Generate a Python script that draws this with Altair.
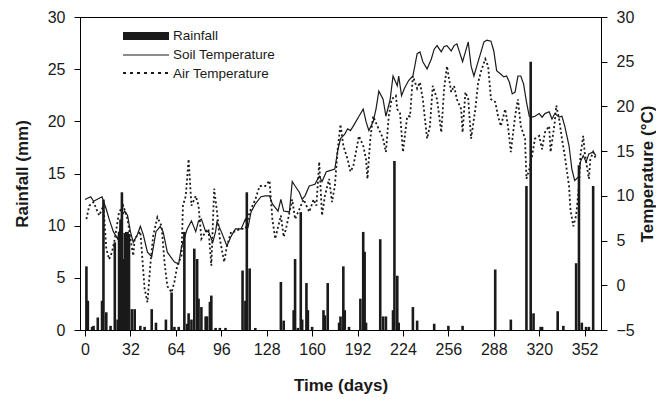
import altair as alt
import pandas as pd

# ---- data ----
soil_days = [0,4,6,12,15,17,20,23,25,26,28,30,32,34,37,39,41,44,47,50,53,55,58,63,66,68,72,75,78,80,82,85,87,90,92,93,96,100,103,106,110,113,115,117,120,124,127,130,132,136,138,140,144,146,148,151,153,155,158,162,165,167,170,172,176,178,180,183,185,187,189,193,196,198,200,203,205,207,210,212,215,217,220,221,223,225,228,231,234,236,238,241,244,246,248,251,253,255,258,260,262,266,268,270,272,274,276,279,281,283,286,288,290,293,295,297,299,301,303,305,307,309,311,313,315,317,320,322,324,327,329,331,334,336,338,341,343,345,348,349,351,353,355,358,360]
soil_temp = [9.6,9.9,9.4,9.9,8.5,7.4,6.0,5.2,6.6,7.8,8.3,7.8,6.0,4.8,5.7,6.6,5.7,3.7,3.2,6.0,6.6,6.0,3.7,2.6,2.4,4.3,6.3,7.2,6.0,7.2,7.4,6.0,6.0,4.8,6.0,7.1,6.0,4.4,5.5,6.3,6.3,7.4,6.6,8.2,9.1,9.9,10.0,10.0,9.1,8.3,9.6,8.3,8.2,11.6,11.1,10.4,9.6,10.0,11.1,11.3,12.2,11.6,12.7,12.8,13.0,15.0,16.4,16.9,17.5,17.3,17.8,18.9,19.7,18.3,17.3,18.3,19.7,21.7,20.8,18.9,20.8,23.4,22.3,23.4,21.2,22.0,22.9,23.4,25.9,26.1,25.0,24.2,25.3,26.4,26.8,26.1,26.7,26.8,26.2,26.8,27.0,25.0,26.1,27.2,24.5,23.4,24.5,26.1,27.2,27.4,27.3,26.2,24.0,23.6,23.3,23.4,22.7,21.4,21.6,23.4,23.4,22.5,20.5,18.9,18.8,18.9,19.2,18.8,19.2,19.4,18.6,19.2,18.8,18.9,17.8,15.6,13.0,11.7,12.2,13.8,14.5,13.8,14.7,14.9,14.5]

air_days = [1,3,6,10,13,15,17,19,21,24,27,30,32,34,35,39,42,44,46,48,51,54,56,58,61,63,65,68,69,71,73,75,78,80,82,85,87,89,91,93,95,98,100,103,106,109,113,116,120,123,127,130,132,134,138,140,142,146,148,151,154,158,161,163,165,167,169,172,174,176,178,180,182,185,187,189,193,196,198,199,201,203,206,208,210,212,214,216,219,220,222,224,227,229,231,234,236,238,241,243,245,248,251,253,255,258,260,262,265,266,268,270,272,275,277,279,282,284,286,289,291,293,296,298,300,303,305,307,310,311,313,315,317,320,322,324,327,328,331,332,334,336,338,341,342,344,346,348,349,351,352,355,356,358,360]
air_temp = [7.4,8.9,9.3,7.8,8.9,4.1,2.9,3.7,5.2,8.2,8.9,7.4,5.2,3.3,5.2,6.0,-0.4,-1.9,2.2,5.5,7.6,6.6,2.6,-0.1,-0.8,0.4,2.2,3.3,8.9,10.0,14.1,8.9,10.0,8.9,5.2,6.0,6.3,2.2,10.8,8.2,5.2,2.6,4.4,6.0,6.0,6.3,6.3,8.2,9.6,11.1,11.1,11.7,7.4,5.2,7.8,5.4,6.6,9.6,7.4,8.5,9.6,8.2,9.6,8.9,13.8,7.8,10.0,11.9,9.3,11.1,15.2,18.0,15.6,14.1,12.7,13.3,16.7,15.6,14.1,11.9,16.4,18.9,17.8,17.1,16.4,14.9,18.9,20.8,21.2,19.7,19.2,14.9,18.9,18.9,23.4,22.0,22.7,20.8,16.4,17.8,22.3,20.8,17.1,22.0,24.5,21.6,22.3,20.8,19.7,17.1,21.6,20.8,16.4,19.7,22.7,23.9,25.3,24.5,20.8,20.5,18.9,17.8,19.7,17.8,14.9,18.9,20.8,17.8,16.4,11.9,13.0,14.5,16.4,16.7,15.2,17.1,17.8,14.9,18.3,20.1,18.6,16.4,14.5,11.1,8.5,6.6,7.8,11.1,14.5,16.7,14.9,11.9,14.1,14.9,14.1]

rain_days = [1,2,5,6,9,12,13,15,18,21,23,24,25,26,27,28,29,30,31,33,35,39,42,47,50,57,61,63,66,70,72,73,75,77,79,80,82,85,86,88,89,92,95,99,111,113,114,116,120,138,140,147,148,150,152,153,156,157,160,168,169,171,179,180,182,183,186,194,196,197,198,208,210,212,217,218,220,221,231,234,246,256,266,289,300,311,314,316,321,322,333,337,346,348,350,353,355,358]
rain_mm = [6.1,2.8,0.3,0.4,1.2,2.8,12.5,1.7,0.4,8.4,1.0,9.4,10.6,13.2,6.8,9.3,9.4,9.4,9.2,2.0,2.0,0.4,0.3,2.0,0.7,1.0,3.6,0.3,0.3,9.4,0.6,1.6,1.0,7.8,6.8,3.0,2.2,1.3,1.3,2.7,3.3,0.2,0.2,0.2,5.7,2.8,13.2,5.9,0.2,4.6,0.9,1.9,6.8,0.2,11.3,1.0,4.5,1.9,0.3,1.9,1.4,4.5,0.7,1.3,6.1,1.9,0.3,3.0,9.4,7.5,0.7,8.7,1.3,1.3,1.9,16.2,5.2,0.7,2.2,0.9,0.6,0.4,0.4,5.8,1.0,13.8,25.7,1.6,0.3,0.3,1.8,0.4,6.4,15.8,0.7,0.3,0.3,13.8]

x_ticks = list(range(0, 361, 4))
legend_labels = ["Rainfall", "Soil Temperature", "Air Temperature"]

soil_df = pd.DataFrame({"day": soil_days, "temp": soil_temp})
air_df = pd.DataFrame({"day": air_days, "temp": air_temp})
rain_df = pd.DataFrame({"day": rain_days, "rain": rain_mm})

FONT = "Liberation Sans"
INK = "#1a1a1a"

xenc = alt.X("day:Q", scale=alt.Scale(domain=[0, 360], nice=False, zero=False),
             axis=alt.Axis(values=x_ticks, title="Time (days)",
                           labelExpr="datum.value % 32 === 0 && datum.value <= 352 ? datum.label : ''",
                           labelOverlap=False, labelFlush=False, labelPadding=5,
                           titlePadding=20))

bars = alt.Chart(rain_df).mark_bar(size=2.6, color=INK).encode(
    x=xenc,
    y=alt.Y("rain:Q", scale=alt.Scale(domain=[0, 30], nice=False),
            axis=alt.Axis(orient="left", values=list(range(0, 31, 5)), title="Rainfall (mm)",
                          labelPadding=9, titlePadding=16)),
)

temp_scale = alt.Scale(domain=[-5, 30], nice=False, zero=False)
soil = alt.Chart(soil_df).mark_line(color=INK, strokeWidth=1.2).encode(
    x=alt.X("day:Q"),
    y=alt.Y("temp:Q", scale=temp_scale,
            axis=alt.Axis(orient="right", values=list(range(-5, 31, 5)), title="Temperature (\u00b0C)",
                          labelPadding=9, titlePadding=22, titleAngle=270)),
)
air = alt.Chart(air_df).mark_line(color=INK, strokeWidth=1.8, strokeDash=[2, 2.5]).encode(
    x=alt.X("day:Q"),
    y=alt.Y("temp:Q", scale=temp_scale, axis=None),
)

# legend (top-left, inside plot)
leg_rect = alt.Chart(pd.DataFrame({"k": [0]})).mark_rect(color=INK).encode(
    x=alt.value(43), x2=alt.value(89), y=alt.value(15), y2=alt.value(23))
leg_soil = alt.Chart(pd.DataFrame({"k": [0]})).mark_rule(color=INK, strokeWidth=1.2).encode(
    x=alt.value(43), x2=alt.value(89), y=alt.value(38))
leg_air = alt.Chart(pd.DataFrame({"k": [0]})).mark_rule(color=INK, strokeWidth=1.8, strokeDash=[3, 4]).encode(
    x=alt.value(43), x2=alt.value(89), y=alt.value(56))
leg_text = alt.Chart(pd.DataFrame({"label": legend_labels, "yy": [19, 38, 57]})).mark_text(
    align="left", baseline="middle", font=FONT, fontSize=13.5, color=INK).encode(
    x=alt.value(93), y=alt.Y("yy:Q", scale=None), text="label:N")

chart = alt.layer(bars, soil, air, leg_rect, leg_soil, leg_air, leg_text).resolve_scale(
    y="independent"
).properties(
    width=521, height=313, padding={"left": 5, "top": 1, "right": 0, "bottom": 2}
).configure_view(
    stroke="black", strokeWidth=1
).configure_axis(
    domainColor="black", tickColor="black", tickSize=6, grid=False,
    labelFont=FONT, labelFontSize=16, labelColor=INK,
    titleFont=FONT, titleFontSize=17, titleFontWeight="bold", titleColor=INK,
)

chart.save("out.html", embed_options={"renderer": "svg", "actions": False})
